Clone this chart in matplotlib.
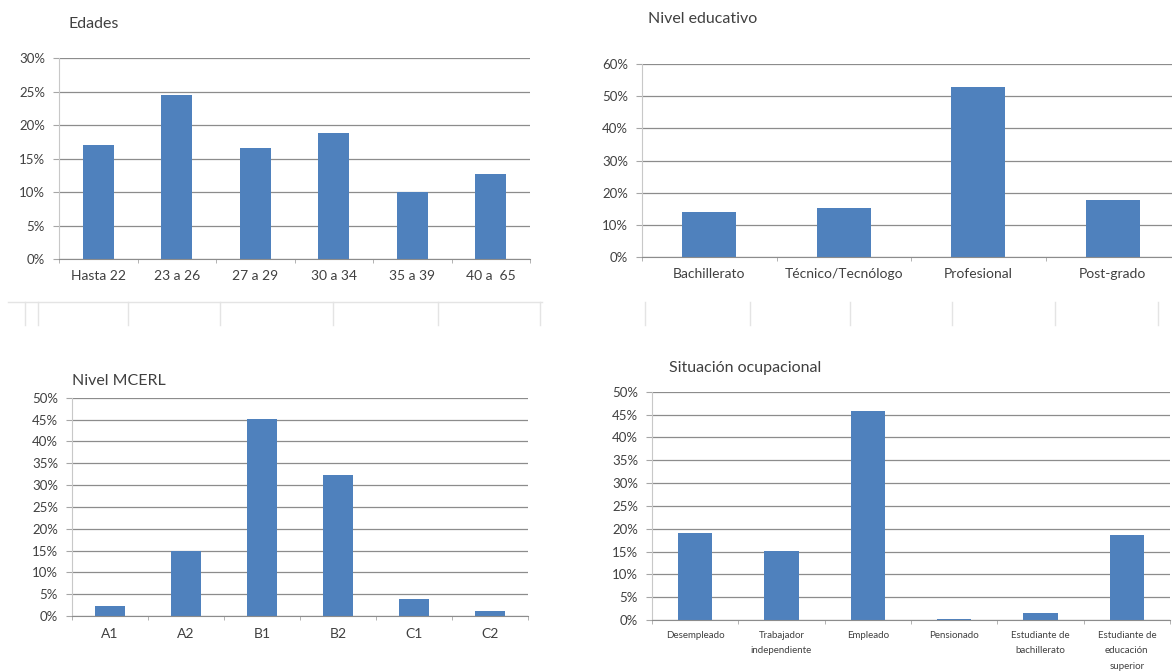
import matplotlib

matplotlib.use("Agg")
import matplotlib.pyplot as plt
import numpy as np
from matplotlib.lines import Line2D
from matplotlib.ticker import PercentFormatter, FixedLocator

plt.rcParams["font.family"] = ["Lato", "DejaVu Sans"]
plt.rcParams["font.size"] = 9

BAR = "#4F81BD"
GRID = "#8C8C8C"
TEXT = "#404040"

# survey results, percent of respondents
edades_cats = ["Hasta 22", "23 a 26", "27 a 29", "30 a 34", "35 a 39", "40 a  65"]
edades_vals = [17.0, 24.5, 16.6, 18.9, 10.0, 12.7]

educ_cats = ["Bachillerato", "Técnico/Tecnólogo", "Profesional", "Post-grado"]
educ_vals = [13.9, 15.3, 52.8, 17.7]

mcerl_cats = ["A1", "A2", "B1", "B2", "C1", "C2"]
mcerl_vals = [2.3, 15.0, 45.2, 32.3, 4.0, 1.2]

ocup_cats = ["Desempleado", "Trabajador\nindependiente", "Empleado", "Pensionado",
             "Estudiante de\nbachillerato", "Estudiante de\neducación\nsuperior"]
ocup_vals = [19.1, 15.1, 45.8, 0.3, 1.5, 18.7]


def bar_panel(fig, rect, cats, vals, ymax, step, xfont, pad, lsp=1.2):
    ax = fig.add_axes(rect)
    x = np.arange(len(cats))
    ax.bar(x, vals, width=0.4, color=BAR, zorder=3)
    ax.set_xlim(-0.5, len(cats) - 0.5)
    ax.set_ylim(0, ymax)
    ax.set_yticks(np.arange(0, ymax + 0.01, step))
    ax.yaxis.set_major_formatter(PercentFormatter(xmax=100, decimals=0))
    ax.grid(axis="y", color=GRID, linewidth=0.9, zorder=0)
    ax.set_xticks(x)
    ax.set_xticklabels(cats, fontsize=xfont, color=TEXT, linespacing=lsp)
    ax.tick_params(axis="x", length=0, pad=pad)
    ax.xaxis.set_minor_locator(FixedLocator(np.arange(len(cats) + 1) - 0.5))
    ax.tick_params(axis="x", which="minor", length=3, color="#A6A6A6", direction="out")
    ax.tick_params(axis="y", length=4, color="#A6A6A6", labelsize=9.5, labelcolor=TEXT, pad=6)
    for s in ["top", "right"]:
        ax.spines[s].set_visible(False)
    ax.spines["left"].set_color("#C8C8C8")
    ax.spines["bottom"].set_color(GRID)
    ax.spines["bottom"].set_zorder(4)
    return ax


W, H = 1172, 672
fig = plt.figure(figsize=(W / 100, H / 100), dpi=100)
fig.patch.set_facecolor("white")


def fx(px):
    return px / W


def fy(py):
    return 1 - py / H


bar_panel(fig, [fx(59), fy(259.3), fx(471), 201 / H], edades_cats, edades_vals, 30, 5, 10, 8)
bar_panel(fig, [fx(642), fy(256.7), fx(538), 192.3 / H], educ_cats, educ_vals, 60, 10, 10, 8)
bar_panel(fig, [fx(72), fy(616), fx(456), 218.3 / H], mcerl_cats, mcerl_vals, 50, 5, 10, 9)
bar_panel(fig, [fx(652), fy(620), fx(518), 228.3 / H], ocup_cats, ocup_vals, 50, 5, 7, 8, lsp=1.9)

# panel titles
fig.text(fx(68), fy(24), "Edades", fontsize=11.5, color=TEXT, va="center")
fig.text(fx(648), fy(19), "Nivel educativo", fontsize=11.5, color=TEXT, va="center")
fig.text(fx(72), fy(381), "Nivel MCERL", fontsize=11.5, color=TEXT, va="center")
fig.text(fx(669), fy(368), "Situación ocupacional", fontsize=11.5, color=TEXT, va="center")

# faint frame lines left under the upper charts
faint = "#E4E4E4"
fig.add_artist(Line2D([fx(8), fx(542)], [fy(302), fy(302)], color=faint, lw=1))
for px in [25, 38, 128, 220, 333, 438, 540]:
    fig.add_artist(Line2D([fx(px), fx(px)], [fy(302), fy(325)], color=faint, lw=1))
for px in [645, 750, 850, 952, 1055, 1158]:
    fig.add_artist(Line2D([fx(px), fx(px)], [fy(302), fy(325)], color=faint, lw=1))

fig.savefig("out.png", dpi=100)
